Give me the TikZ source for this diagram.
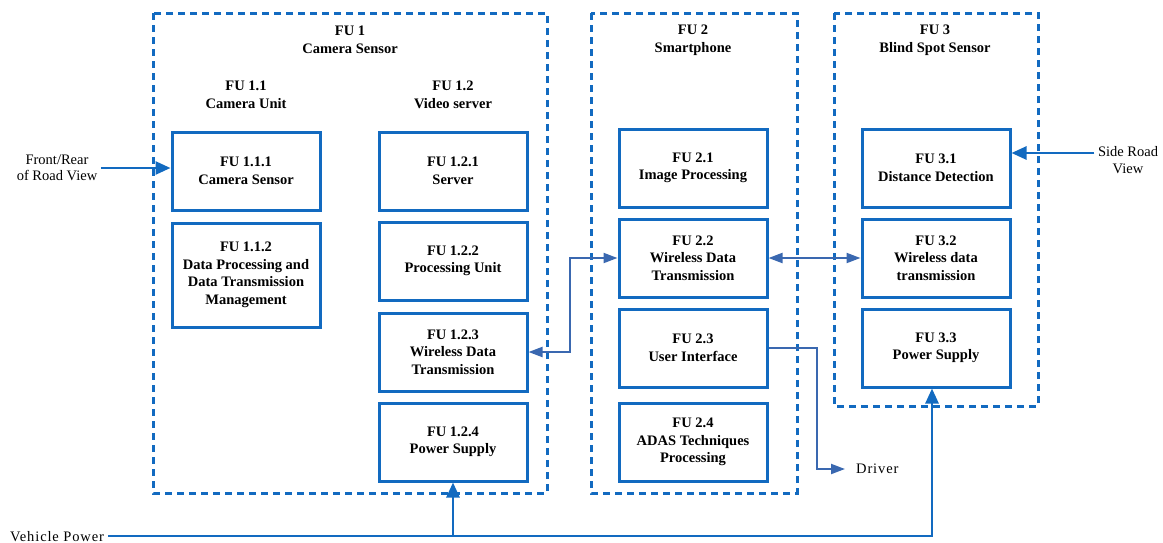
\documentclass[tikz,border=0pt]{standalone}
\usepackage{fontspec}
\setmainfont{Liberation Serif}
\usetikzlibrary{arrows.meta}
\definecolor{boxblue}{RGB}{18,106,192}
\definecolor{linkblue}{RGB}{58,104,176}
\begin{document}
\begin{tikzpicture}[x=1pt,y=-1pt,
  every node/.style={font=\fontsize{14.5}{17.5}\selectfont\bfseries, align=center},
  unit/.style={draw=boxblue, line width=3pt, minimum width=148pt, minimum height=78pt, inner sep=2pt},
  group/.style={draw=boxblue, line width=3pt, dash pattern=on 7pt off 5pt},
  plain/.style={font=\fontsize{14.5}{16.5}\selectfont},
  spaced/.style={font=\fontsize{14.5}{16.5}\selectfont\addfontfeatures{LetterSpace=6}},
  feed/.style={draw=boxblue, line width=2.6pt, -{Triangle[length=15pt,width=13pt]}},
  link/.style={draw=linkblue, line width=2pt, {Triangle[length=14pt,width=10pt]}-{Triangle[length=14pt,width=10pt]}},
  outlink/.style={draw=linkblue, line width=2pt, -{Triangle[length=14pt,width=10pt]}}]
\useasboundingbox (0,0) rectangle (1163,542);

% functional unit groups
\draw[group] (153,13) rectangle (547,493);
\draw[group] (591,13) rectangle (797,493);
\draw[group] (834,13) rectangle (1038,406);

\node (t1)  at (350,40) {FU 1\\Camera Sensor};
\node (t11) at (246,95) {FU 1.1\\Camera Unit};
\node (t12) at (453,95) {FU 1.2\\Video server};
\node (t2)  at (693,40) {FU 2\\Smartphone};
\node (t3)  at (935,40) {FU 3\\Blind Spot Sensor};

% FU 1 units
\node[unit] (n111) at (246,171) {FU 1.1.1\\Camera Sensor};
\node[unit, minimum height=104pt] (n112) at (246,275) {FU 1.1.2\\Data Processing and\\Data Transmission\\Management};
\node[unit] (n121) at (453,171) {FU 1.2.1\\Server};
\node[unit] (n122) at (453,261) {FU 1.2.2\\Processing Unit};
\node[unit] (n123) at (453,352) {FU 1.2.3\\Wireless Data\\Transmission};
\node[unit] (n124) at (453,442) {FU 1.2.4\\Power Supply};

% FU 2 units
\node[unit] (n21) at (693,168) {FU 2.1\\Image Processing};
\node[unit] (n22) at (693,258) {FU 2.2\\Wireless Data\\Transmission};
\node[unit] (n23) at (693,348) {FU 2.3\\User Interface};
\node[unit] (n24) at (693,442) {FU 2.4\\ADAS Techniques\\Processing};

% FU 3 units
\node[unit] (n31) at (936,168) {FU 3.1\\Distance Detection};
\node[unit] (n32) at (936,258) {FU 3.2\\Wireless data\\transmission};
\node[unit] (n33) at (936,348) {FU 3.3\\Power Supply};

% external inputs and outputs
\node[plain] (fr) at (57,168) {Front/Rear\\of Road View};
\node[plain] (sr) at (1128,160) {Side Road\\View};
\node[spaced, anchor=west, inner xsep=11pt] (drv) at (845,469) {Driver};
\node[spaced, anchor=base west, inner xsep=0pt] (vp) at (10,541) {Vehicle Power};

% connectors
\draw[feed] (fr.east) -- (fr.east -| n111.west);
\draw[feed] ([yshift=7pt]sr.west) -- ([yshift=7pt]sr.west -| n31.east);
\draw[link] (n123.east) -- ++(41,0) |- (n22.west);
\draw[link] (n22.east) -- (n32.west);
\draw[outlink] (n23.east) -- ++(48,0) |- (drv.west);
\draw[feed] ([xshift=4pt]vp.east) -| ([xshift=-4pt]n33.south);
\draw[feed] (n124.south |- vp.east) -- (n124.south);
\end{tikzpicture}
\end{document}
